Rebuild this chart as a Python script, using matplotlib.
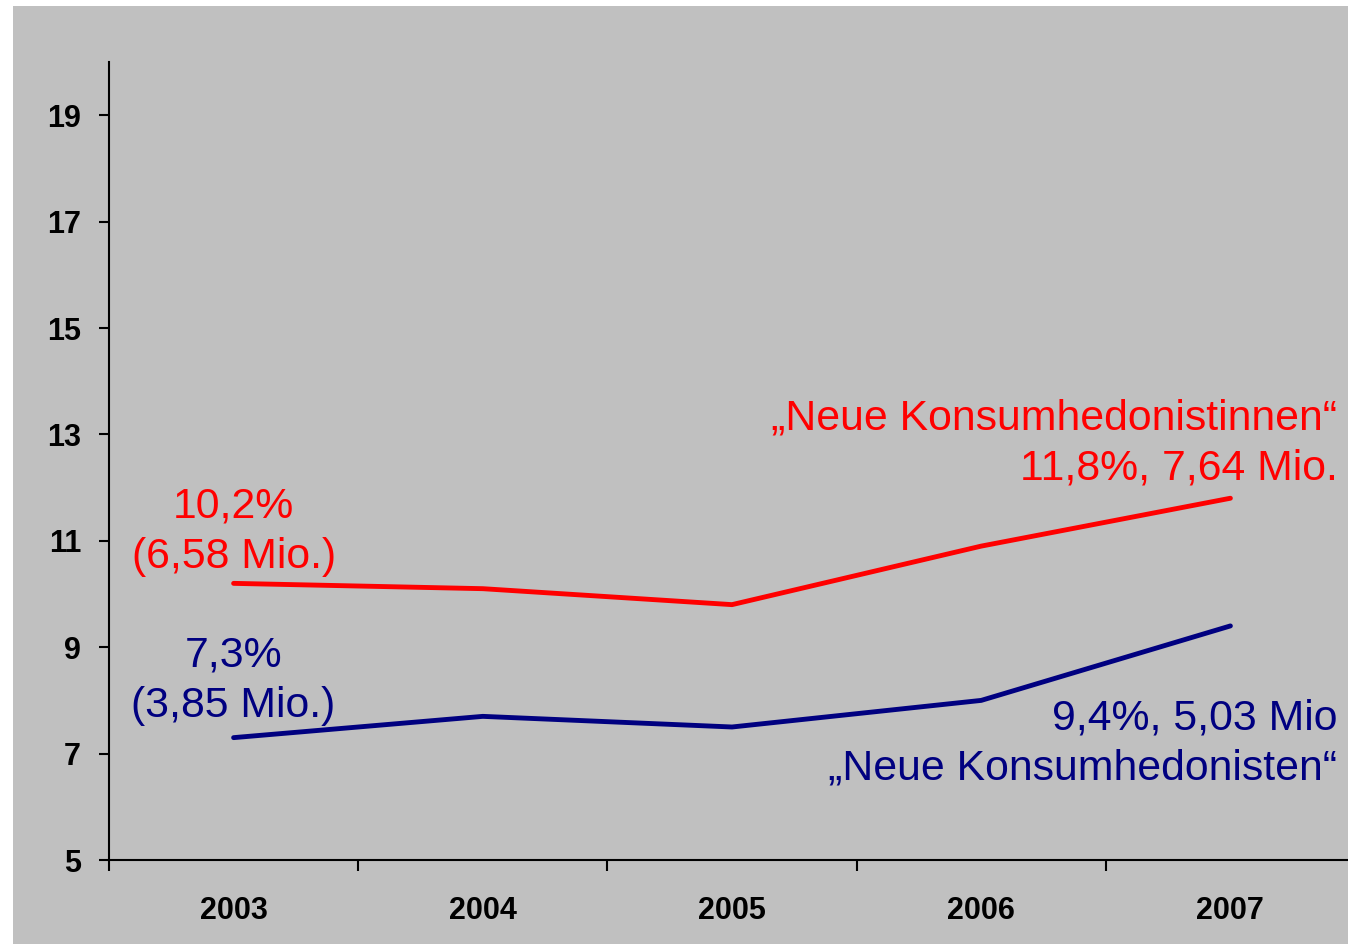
import matplotlib.pyplot as plt
from matplotlib.patches import Rectangle

years = ['2003', '2004', '2005', '2006', '2007']
frauen = [10.2, 10.1, 9.8, 10.9, 11.8]
maenner = [7.3, 7.7, 7.5, 8.0, 9.4]
y_ticks = [5, 7, 9, 11, 13, 15, 17, 19]

red = '#ff0000'
blue = '#000080'
gray = '#c0c0c0'

plt.rcParams['font.family'] = ['Liberation Sans', 'DejaVu Sans']

fig = plt.figure(figsize=(13.48, 9.44), dpi=100, facecolor='white')
# grauer Hintergrund, oben und links ein schmaler weisser Rand
fig.patches.append(Rectangle((13 / 1348, 0), 1, 1 - 6 / 944, transform=fig.transFigure,
                             facecolor=gray, edgecolor='none', zorder=-10))

ax = fig.add_axes([109 / 1348, 1 - 860 / 944, 1246 / 1348, 798 / 944])
ax.set_facecolor('none')

x = list(range(len(years)))
ax.plot(x, frauen, color=red, lw=3.5, solid_capstyle='round', solid_joinstyle='round')
ax.plot(x, maenner, color=blue, lw=3.5, solid_capstyle='round', solid_joinstyle='round')

ax.set_xlim(-0.5, 4.5)
ax.set_ylim(5, 20)

for s in ['top', 'right']:
    ax.spines[s].set_visible(False)
for s in ['left', 'bottom']:
    ax.spines[s].set_linewidth(1.5)
    ax.spines[s].set_color('black')

ax.set_yticks(y_ticks)
ax.set_yticklabels([str(v) for v in y_ticks], fontsize=22, fontweight='bold')
ax.tick_params(axis='y', direction='out', length=7, width=1.5, pad=13)

ax.set_xticks(x)
ax.set_xticklabels(years, fontsize=22, fontweight='bold')
ax.set_xticks([i - 0.5 for i in range(len(years) + 1)], minor=True)
ax.tick_params(axis='x', which='major', length=0, pad=26)
ax.tick_params(axis='x', which='minor', direction='out', length=8, width=1.5)

# va='baseline' richtet an der letzten Zeile aus
kw = dict(fontsize=30.8, va='baseline', linespacing=1.33)
ax.text(0, 10.49, '10,2%\n(6,58 Mio.)', color=red, ha='center', multialignment='center', **kw)
ax.text(0, 7.69, '7,3%\n(3,85 Mio.)', color=blue, ha='center', multialignment='center', **kw)
ax.text(4.43, 12.15, '„Neue Konsumhedonistinnen“\n11,8%, 7,64 Mio.', color=red,
        ha='right', multialignment='right', **kw)
ax.text(4.43, 6.505, '9,4%, 5,03 Mio\n„Neue Konsumhedonisten“', color=blue,
        ha='right', multialignment='right', **kw)

fig.savefig('out.png', dpi=100, facecolor='white')
